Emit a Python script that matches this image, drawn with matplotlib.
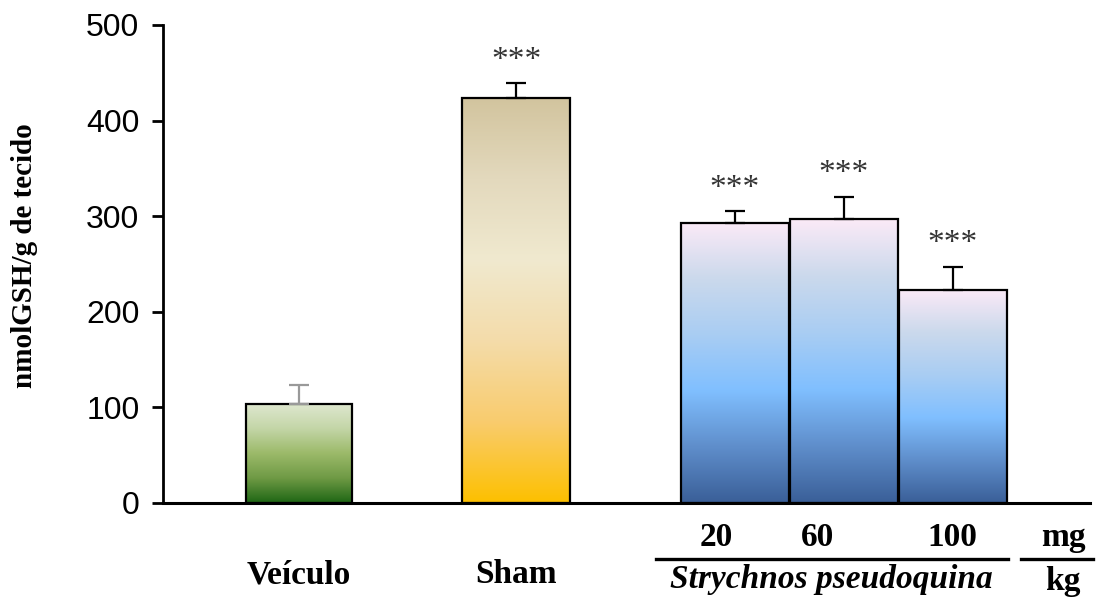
import numpy as np
import matplotlib
matplotlib.use('Agg')
import matplotlib.pyplot as plt
from matplotlib.colors import LinearSegmentedColormap
import matplotlib.transforms as mtransforms

# data
groups = ['Veículo', 'Sham', '20', '60', '100']
means = [104, 424, 293, 297, 223]
errs = [19, 15, 12, 23, 24]
stars = ['', '***', '***', '***', '***']
positions = [1.26, 3.27, 5.29, 6.30, 7.31]
widths = [0.98, 1.0, 1.0, 1.0, 1.0]
err_colors = ['#999999', 'black', 'black', 'black', 'black']

green = LinearSegmentedColormap.from_list('g', ['#1e6614', '#6f9a45', '#9cba6a', '#c4d6a8', '#dfe8d0'])
sham = LinearSegmentedColormap.from_list('s', ['#fdc000', '#f9cc6e', '#f4dcaa', '#f0e9cf', '#e3d9bd', '#d2c49e'])
blue = LinearSegmentedColormap.from_list('b', ['#3a5f98', '#5f8ecb', '#80bfff', '#a9cdf3', '#cbd9ec', '#fbeaf7'])
cmaps = [green, sham, blue, blue, blue]

fig = plt.figure(figsize=(11.01, 5.99), dpi=100)
ax = fig.add_axes([163/1101, 96/599, 927/1101, 478/599])

bars = ax.bar(positions, means, width=widths, facecolor='none',
              edgecolor='black', linewidth=1.6, zorder=3)
grad = np.linspace(0, 1, 256).reshape(-1, 1)
for b, cm in zip(bars, cmaps):
    x0 = b.get_x()
    x1 = x0 + b.get_width()
    im = ax.imshow(grad, cmap=cm, origin='lower', aspect='auto',
                   extent=[x0, x1, 0, b.get_height()], zorder=2)
    im.set_clip_path(b)

for x, m, e, c, s in zip(positions, means, errs, err_colors, stars):
    ax.errorbar(x, m, yerr=[[0], [e]], fmt='none', ecolor=c, elinewidth=1.6,
                capsize=7, capthick=1.6, zorder=4)
    if s:
        ax.text(x, m + e + 8, s, ha='center', va='bottom', fontsize=24,
                family='Liberation Serif', color='#333333')

ax.set_xlim(0, 8.58)
ax.set_ylim(0, 500)
ax.set_yticks([0, 100, 200, 300, 400, 500])
ax.set_xticks([])
for side in ['top', 'right']:
    ax.spines[side].set_visible(False)
ax.spines['left'].set_linewidth(2)
ax.spines['bottom'].set_linewidth(2.2)
ax.tick_params(axis='y', direction='out', length=8, width=2, pad=9, labelsize=23)
for lab in ax.get_yticklabels():
    lab.set_family('Liberation Sans')

fig.text(25/1101, 0.574, 'nmolGSH/g de tecido', rotation=90, ha='center', va='center',
         fontsize=21, fontweight='bold', family='Liberation Serif')

# group labels under the axis
trans = mtransforms.blended_transform_factory(ax.transData, ax.transAxes)
bold = dict(ha='center', va='center', fontweight='bold', family='Liberation Serif',
            transform=trans, fontsize=24)
ax.text(positions[0], -0.150, 'Veículo', **bold)
ax.text(positions[1], -0.150, 'Sham', **bold)
ax.text(5.12, -0.073, '20', **bold)
ax.text(6.06, -0.073, '60', **bold)
ax.text(7.31, -0.073, '100', **bold)
ax.text(8.33, -0.073, 'mg', **bold)
ax.text(6.19, -0.160, 'Strychnos pseudoquina', style='italic', **bold)
ax.text(8.33, -0.165, 'kg', **bold)
ax.plot([4.56, 7.82], [-0.117, -0.117], color='black', lw=2.4, transform=trans, clip_on=False)
ax.plot([7.94, 8.61], [-0.117, -0.117], color='black', lw=2.4, transform=trans, clip_on=False)

fig.savefig('out.png', dpi=100)
